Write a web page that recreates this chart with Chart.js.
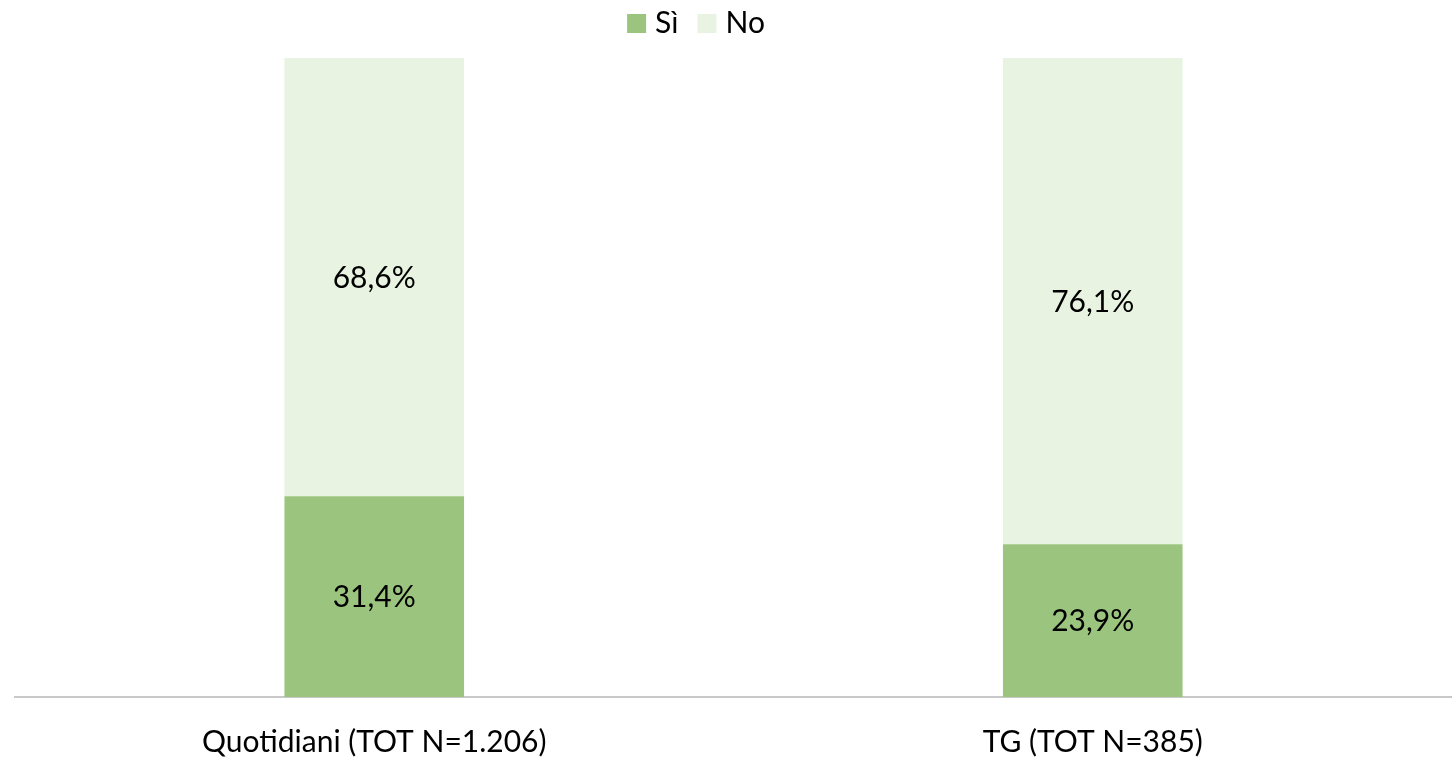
<!DOCTYPE html>
<html>
<head>
<meta charset="utf-8">
<script src="https://cdn.jsdelivr.net/npm/chart.js@4"></script>
<style>
  html, body { margin: 0; padding: 0; background: #fff; }
  #wrap { width: 1452px; height: 760px; position: relative; }
</style>
</head>
<body>
<div id="wrap"><canvas id="chart"></canvas></div>
<script>
// data
var categories = ["Quotidiani (TOT N=1.206)", "TG (TOT N=385)"];
var si = [31.4, 23.9];
var no = [68.6, 76.1];

var FONT = "Lato, 'Open Sans', sans-serif";

// draw the value in the middle of each bar segment
var barLabels = {
  id: "barLabels",
  afterDatasetsDraw: function(chart) {
    var ctx = chart.ctx;
    ctx.save();
    ctx.font = "30px " + FONT;
    ctx.fillStyle = "#000";
    ctx.textAlign = "center";
    ctx.textBaseline = "middle";
    chart.data.datasets.forEach(function(ds, i) {
      chart.getDatasetMeta(i).data.forEach(function(bar, j) {
        var p = bar.getCenterPoint();
        ctx.fillText(ds.data[j].toFixed(1).replace(".", ",") + "%", p.x, p.y + 1);
      });
    });
    ctx.restore();
  }
};

// small legend on top, tighter than the built-in one
var topLegend = {
  id: "topLegend",
  afterDraw: function(chart) {
    var ctx = chart.ctx;
    var box = 19, gap = 9, between = 19;
    ctx.save();
    ctx.font = "30px " + FONT;
    ctx.textBaseline = "middle";
    ctx.textAlign = "left";
    var ds = chart.data.datasets;
    var total = 0;
    ds.forEach(function(d, i) {
      total += box + gap + ctx.measureText(d.label).width;
      if (i < ds.length - 1) total += between;
    });
    var x = 696 - total / 2;
    ds.forEach(function(d) {
      ctx.fillStyle = d.backgroundColor;
      ctx.fillRect(x, 14, box, box);
      x += box + gap;
      ctx.fillStyle = "#000";
      ctx.fillText(d.label, x, 23);
      x += ctx.measureText(d.label).width + between;
    });
    ctx.restore();
  }
};

new Chart(document.getElementById("chart"), {
  type: "bar",
  data: {
    labels: categories,
    datasets: [
      { label: "Sì", data: si, backgroundColor: "#9BC57E" },
      { label: "No", data: no, backgroundColor: "#E8F3E1" }
    ]
  },
  options: {
    responsive: true,
    maintainAspectRatio: false,
    animation: false,
    layout: { padding: { left: 15, right: -2, top: 58, bottom: 0 } },
    datasets: { bar: { barPercentage: 0.5, categoryPercentage: 0.5 } },
    plugins: {
      tooltip: { enabled: false },
      legend: { display: false }
    },
    scales: {
      x: {
        stacked: true,
        grid: { display: false, drawTicks: false },
        border: { color: "#c8c8c8", width: 2 },
        ticks: { color: "#000", font: { family: FONT, size: 30 }, padding: 27 },
        afterFit: function(scale) { scale.height = 63; }
      },
      y: {
        stacked: true,
        display: false,
        min: 0,
        max: 100
      }
    }
  },
  plugins: [barLabels, topLegend]
});
</script>
</body>
</html>
